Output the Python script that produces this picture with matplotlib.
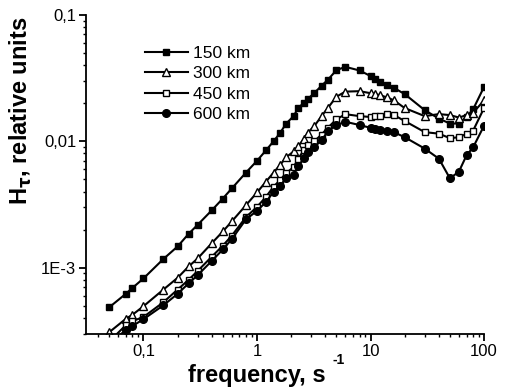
"""H_tau vs frequency for four heights"""
import matplotlib
matplotlib.use("Agg")
import matplotlib.pyplot as plt
from matplotlib.ticker import FixedLocator, NullFormatter

plt.rcParams['font.family'] = ['Liberation Sans', 'DejaVu Sans']

# Данные
freq = [0.05, 0.07, 0.08, 0.1, 0.15, 0.2, 0.25, 0.3, 0.4, 0.5, 0.6, 0.8, 1,
        1.2, 1.4, 1.6, 1.8, 2.1, 2.3, 2.6, 2.8, 3.2, 3.7, 4.2, 5,
        6, 8, 10, 11, 12, 14, 16, 20, 30, 40, 50, 60, 70, 80, 100]

h150 = [4.85e-4, 6.2e-4, 6.9e-4, 8.2e-4, 1.17e-3, 1.47e-3, 1.85e-3, 2.18e-3, 2.84e-3, 3.52e-3, 4.23e-3, 5.65e-3, 7.0e-3,
        8.47e-3, 0.0100, 0.01165, 0.01375, 0.0158, 0.0183, 0.0202, 0.0216, 0.0241, 0.0275, 0.0306, 0.0365,
        0.0388, 0.0363, 0.0328, 0.031, 0.0296, 0.0279, 0.0265, 0.0236, 0.0176, 0.0151, 0.0138, 0.0138, 0.0156, 0.0179, 0.027]

h300 = [3.08e-4, 3.93e-4, 4.23e-4, 4.94e-4, 6.7e-4, 8.3e-4, 1.02e-3, 1.18e-3, 1.56e-3, 1.93e-3, 2.32e-3, 3.12e-3, 3.93e-3,
        4.79e-3, 5.65e-3, 6.5e-3, 7.45e-3, 8.3e-3, 9.1e-3, 0.0105, 0.0117, 0.0132, 0.0158, 0.0183, 0.0225,
        0.0247, 0.0249, 0.024, 0.0236, 0.0232, 0.0222, 0.0211, 0.0183, 0.0158, 0.0164, 0.0161, 0.0154, 0.0161, 0.0168, 0.0211]

h450 = [2.6e-4, 3.5e-4, 3.77e-4, 4.06e-4, 5.32e-4, 6.7e-4, 8.0e-4, 9.4e-4, 1.22e-3, 1.49e-3, 1.79e-3, 2.51e-3, 3.02e-3,
        3.63e-3, 4.37e-3, 4.94e-3, 5.57e-3, 6.25e-3, 7.24e-3, 8.59e-3, 9.3e-3, 0.0100, 0.0113, 0.01277, 0.0149,
        0.01637, 0.0158, 0.01556, 0.0158, 0.0159, 0.0164, 0.01614, 0.01445, 0.0118, 0.01148, 0.01057, 0.01076, 0.01143, 0.01213, 0.01837]

h600 = [2.5e-4, 3.2e-4, 3.45e-4, 3.9e-4, 5.03e-4, 6.2e-4, 7.5e-4, 8.7e-4, 1.13e-3, 1.39e-3, 1.68e-3, 2.41e-3, 2.81e-3,
        3.31e-3, 3.98e-3, 4.45e-3, 5.08e-3, 5.44e-3, 6.31e-3, 7.35e-3, 8.17e-3, 9.04e-3, 0.01014, 0.012, 0.01343,
        0.01426, 0.01343, 0.01277, 0.0124, 0.01225, 0.012, 0.0118, 0.01076, 8.74e-3, 7.27e-3, 5.08e-3, 5.75e-3, 7.73e-3, 8.95e-3, 0.0133]

labels = ["150 km", "300 km", "450 km", "600 km"]

# Фигура
fig = plt.figure(figsize=(5.08, 3.92), dpi=100)
ax = fig.add_axes([0.169, 0.148, 0.784, 0.814])

series = [h150, h300, h450, h600]
markers = ['s', '^', 's', 'o']
faces = ['black', 'white', 'white', 'black']
sizes = [5, 6, 5, 5.5]
for vals, lab, m, fc, ms in zip(series, labels, markers, faces, sizes):
    ax.plot(freq, vals, color='black', lw=1.5, marker=m, markerfacecolor=fc,
            markeredgecolor='black', markeredgewidth=1.0, markersize=ms, label=lab)

ax.set_xscale('log')
ax.set_yscale('log')
ax.set_xlim(0.0311, 100)
ax.set_ylim(2.98e-4, 0.1)

ax.xaxis.set_major_locator(FixedLocator([0.1, 1, 10, 100]))
ax.set_xticklabels(["0,1", "1", "10", "100"])
ax.xaxis.set_minor_locator(FixedLocator([k * 10.0**e for e in range(-2, 2) for k in range(2, 10)]))
ax.xaxis.set_minor_formatter(NullFormatter())
ax.yaxis.set_major_locator(FixedLocator([1e-3, 1e-2, 0.1]))
ax.set_yticklabels(["1E-3", "0,01", "0,1"])
ax.yaxis.set_minor_locator(FixedLocator([k * 10.0**e for e in range(-4, -1) for k in range(2, 10)]))
ax.yaxis.set_minor_formatter(NullFormatter())

for s in ['top', 'right']:
    ax.spines[s].set_visible(False)
for s in ['left', 'bottom']:
    ax.spines[s].set_linewidth(1.3)
ax.tick_params(which='major', direction='out', length=5, width=1.3, labelsize=12, pad=2)
ax.tick_params(which='minor', direction='out', length=2.5, width=1.0)

# подпись оси X с надстрочным "-1"
fig.text(0.506, 0.025, "frequency, s", fontsize=17, fontweight='bold', ha='center', va='baseline')
fig.text(0.655, 0.072, "-1", fontsize=10, fontweight='bold', ha='left', va='baseline')

ax.set_ylabel("H$_\\mathbf{\\tau}$, relative units", fontsize=17, fontweight='bold')
ax.yaxis.set_label_coords(-0.13, 0.70)

ax.legend(loc='upper left', bbox_to_anchor=(0.13, 0.925), frameon=False, fontsize=12.5,
          handlelength=2.5, handletextpad=0.3, labelspacing=0.3, borderaxespad=0)

fig.savefig("out.png", dpi=100)
